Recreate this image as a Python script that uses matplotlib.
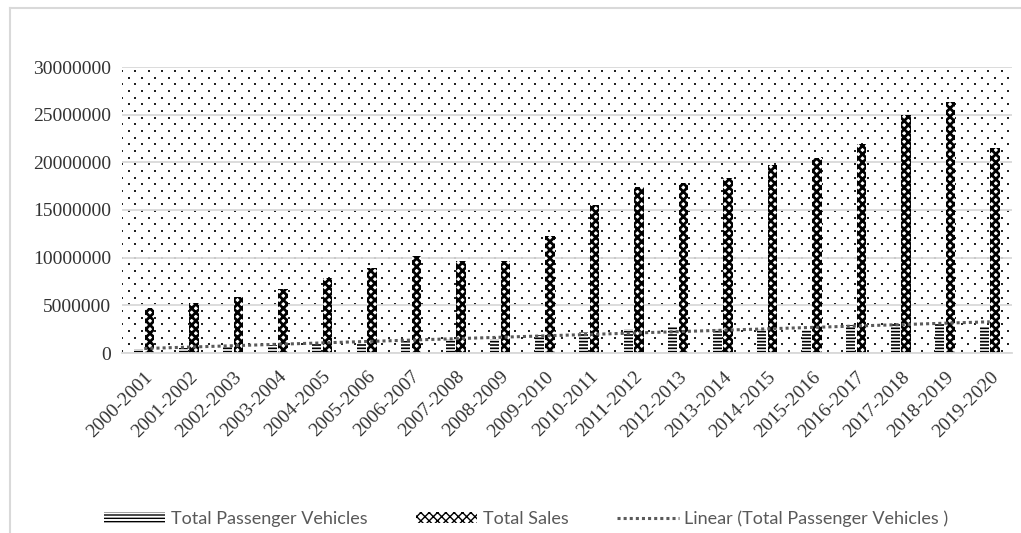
import numpy as np
from matplotlib import pyplot as plt
from matplotlib.lines import Line2D
from matplotlib.patches import Patch

# Datos por año fiscal
years = ['2000-2001', '2001-2002', '2002-2003', '2003-2004', '2004-2005',
         '2005-2006', '2006-2007', '2007-2008', '2008-2009', '2009-2010',
         '2010-2011', '2011-2012', '2012-2013', '2013-2014', '2014-2015',
         '2015-2016', '2016-2017', '2017-2018', '2018-2019', '2019-2020']
passenger = [450000, 550000, 650000, 850000, 1000000,
             1100000, 1300000, 1450000, 1500000, 1900000,
             2200000, 2550000, 2700000, 2500000, 2500000,
             2450000, 2900000, 3050000, 3150000, 2700000]
total_sales = [4720000, 5250000, 5900000, 6700000, 7850000,
               8900000, 10200000, 9650000, 9650000, 12300000,
               15500000, 17400000, 17800000, 18400000, 19700000,
               20500000, 21900000, 25000000, 26300000, 21500000]

grid_col = '#d9d9d9'
txt_col = '#595959'

fig = plt.figure(figsize=(10.21, 5.33), dpi=100)
ax = fig.add_axes([122/1021, 180/533, 890/1021, 286/533])

# fondo punteado
cols = np.arange(0, 1.0, 13.33/890)
rows = np.arange(4/286, 1.0, 6.67/286)
px, py = [], []
for k, r in enumerate(rows):
    off = 0 if k % 2 == 0 else 6.67/890
    for c in cols:
        px.append(c + off)
        py.append(1 - r)
ax.scatter(px, py, s=0.9, marker='s', color='#222222', lw=0,
           transform=ax.transAxes, zorder=0.5, clip_on=True)

x = np.arange(len(years))
w = 0.21
with plt.rc_context({'hatch.linewidth': 1.2}):
    ax.bar(x - 0.125, passenger, w, facecolor='white', edgecolor='black',
           linewidth=0, hatch='-----', zorder=2)
    pv_handle = Patch(facecolor='white', edgecolor='black', linewidth=0, hatch='-----')
with plt.rc_context({'hatch.linewidth': 2.0}):
    ax.bar(x + 0.115, total_sales, w, facecolor='white', edgecolor='black',
           linewidth=0, hatch='xxxx', zorder=2)
    ts_handle = Patch(facecolor='white', edgecolor='black', linewidth=0, hatch='xxxx')

# linea de tendencia
m, b = np.polyfit(x, passenger, 1)
ax.plot(x, m * x + b, linestyle=(0, (1, 1)), color='#5a5a5a', lw=2.2, zorder=3)

ax.set_xlim(-0.5, len(years) - 0.5)
ax.set_ylim(0, 30000000)
ax.set_yticks(range(0, 30000001, 5000000))
ax.set_yticklabels([str(v) for v in range(0, 30000001, 5000000)],
                   family='Liberation Serif', fontsize=14, color='#333333')
ax.set_xticks(x)
ax.set_xticklabels(years, rotation=45, ha='right', va='top',
                   rotation_mode='anchor', family='Liberation Serif',
                   fontsize=14, color='#333333')
ax.tick_params(length=0, pad=8)
ax.tick_params(axis='x', pad=11)
ax.grid(axis='y', color=grid_col, lw=1.3, zorder=1)
ax.set_axisbelow(True)
for s in ['left', 'right', 'top']:
    ax.spines[s].set_visible(False)
ax.spines['bottom'].set_color(grid_col)
ax.spines['bottom'].set_linewidth(1.3)

# marco
fig.add_artist(Line2D([10/1021, 10/1021], [0, 1 - 8/533], color=grid_col, lw=1.5))
fig.add_artist(Line2D([10/1021, 1], [1 - 8/533, 1 - 8/533], color=grid_col, lw=1.5))

handles = [pv_handle, ts_handle,
           Line2D([0], [0], linestyle=(0, (1, 1)), color='#5a5a5a', lw=2.2)]
labels = ['Total Passenger Vehicles', 'Total Sales',
          'Linear (Total Passenger Vehicles )']
fig.legend(handles, labels, loc='center', bbox_to_anchor=(526/1021, 1 - 519/533),
           ncol=3, frameon=False, handlelength=3.4, handleheight=0.55,
           columnspacing=2.7, handletextpad=0.3,
           prop={'family': ['Lato', 'DejaVu Sans'], 'size': 13},
           labelcolor=txt_col)

fig.savefig('out.png', dpi=100)
